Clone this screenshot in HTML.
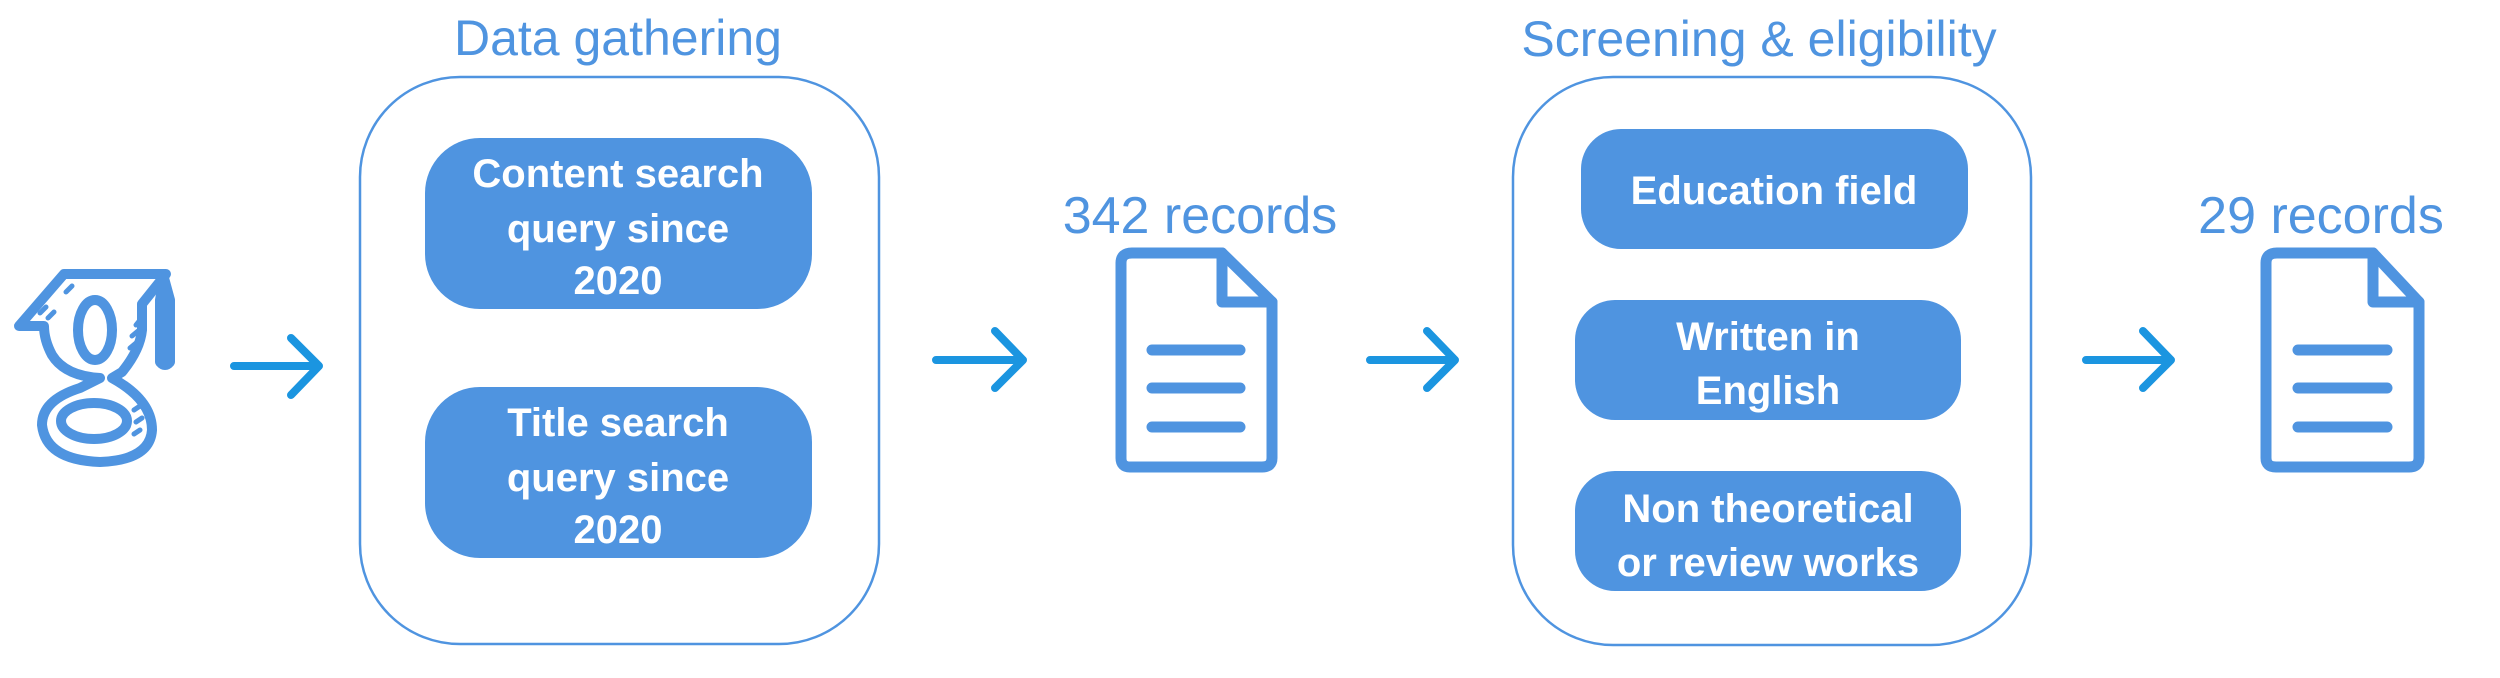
<!DOCTYPE html>
<html><head><meta charset="utf-8"><style>
html,body{margin:0;padding:0;background:#fff;}
svg{display:block}
text{font-family:"Liberation Sans",sans-serif;}
</style></head><body>
<svg width="2500" height="678" viewBox="0 0 2500 678" xmlns="http://www.w3.org/2000/svg">
<!-- Scholar icon -->
<g fill="none" stroke="#4f94e0" stroke-width="10" stroke-linecap="round" stroke-linejoin="round">
  <path d="M64,274 L166,274 L142,304 L142,330 Q140,350 122,372 L112,378 Q152,400 152,430 Q150,460 100,462 Q46,460 42,425 Q42,400 80,388 L100,378 Q65,376 52,355 Q44,340 44,326 L19,326 Z"/>
  <ellipse cx="95" cy="330" rx="17" ry="30"/>
  <ellipse cx="94" cy="421" rx="33" ry="18"/>
  <path d="M164,278 L160,300 L160,362 Q165,368 170,362 L170,300 Z"/>
  <path d="M66,292 L72,286 M40,313 L46,307 M48,318 L54,312 M136,325 L140,320 M132,336 L138,331 M130,348 L136,343 M134,410 L140,406 M136,422 L142,418 M134,434 L140,430" stroke-width="5"/>
</g>
<!-- arrows -->
<g fill="none" stroke="#1b95e0" stroke-width="8" stroke-linecap="round" stroke-linejoin="round">
  <path d="M234,366 L319,366 M291,338 L319,366 L291,395"/>
  <path d="M936,360 L1023,360 M995,331 L1023,360 L995,388"/>
  <path d="M1370,360 L1455,360 M1427,331 L1455,360 L1427,388"/>
  <path d="M2086,360 L2171,360 M2143,331 L2171,360 L2143,388"/>
</g>
<!-- big containers -->
<rect x="360" y="77" width="519" height="567" rx="100" fill="none" stroke="#4f94e0" stroke-width="2.5"/>
<rect x="1513" y="77" width="518" height="568" rx="100" fill="none" stroke="#4f94e0" stroke-width="2.5"/>
<text x="618" y="55" font-size="50" fill="#4f94e0" text-anchor="middle">Data gathering</text>
<text x="1759" y="56" font-size="50" fill="#4f94e0" text-anchor="middle">Screening &amp; eligibility</text>
<!-- inner boxes -->
<g fill="#4f94e0">
  <rect x="425" y="138" width="387" height="171" rx="55"/>
  <rect x="425" y="387" width="387" height="171" rx="55"/>
  <rect x="1581" y="129" width="387" height="120" rx="40"/>
  <rect x="1575" y="300" width="386" height="120" rx="40"/>
  <rect x="1575" y="471" width="386" height="120" rx="40"/>
</g>
<g fill="#fff" font-size="40" font-weight="bold" text-anchor="middle">
  <text x="618" y="187">Content search</text>
  <text x="618" y="242">query since</text>
  <text x="618" y="294">2020</text>
  <text x="618" y="436">Title search</text>
  <text x="618" y="491">query since</text>
  <text x="618" y="543">2020</text>
  <text x="1774" y="204">Education field</text>
  <text x="1768" y="350">Written in</text>
  <text x="1768" y="404">English</text>
  <text x="1768" y="522">Non theoretical</text>
  <text x="1768" y="576">or review works</text>
</g>
<g fill="#4f94e0" font-size="52" text-anchor="middle">
  <text x="1200" y="233">342 records</text>
  <text x="2321" y="233">29 records</text>
</g>
<!-- documents -->
<g fill="none" stroke="#4f94e0" stroke-width="11" stroke-linejoin="round" stroke-linecap="round">
  <path d="M1132,253 L1222,253 L1272,302 L1272,458 Q1272,467 1262,467 L1130,467 Q1121,467 1121,458 L1121,263 Q1121,253 1132,253 Z"/>
  <path d="M1222,253 L1222,302 L1272,302"/>
  <path d="M1152,350 L1240,350 M1152,388 L1240,388 M1152,427 L1240,427"/>
  <path d="M2277,253 L2373,253 L2419,302 L2419,458 Q2419,467 2409,467 L2276,467 Q2266,467 2266,458 L2266,263 Q2266,253 2277,253 Z"/>
  <path d="M2373,253 L2373,302 L2419,302"/>
  <path d="M2298,350 L2387,350 M2298,388 L2387,388 M2298,427 L2387,427"/>
</g>
</svg>
</body></html>
